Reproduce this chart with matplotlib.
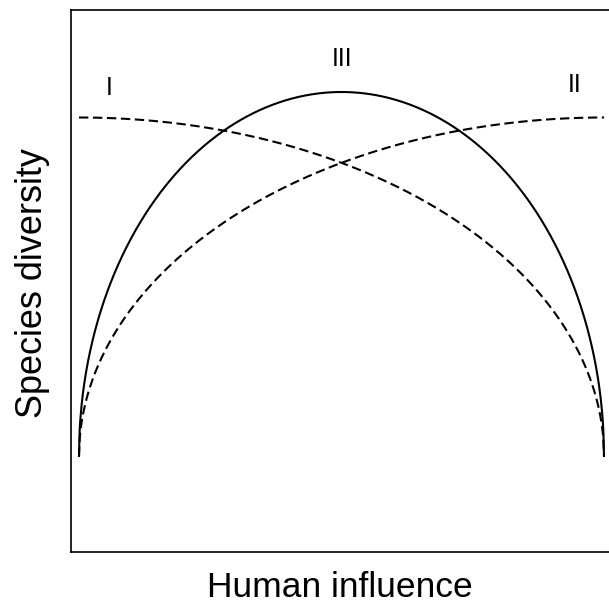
import matplotlib
matplotlib.use("Agg")
import numpy as np
import matplotlib.pyplot as plt

plt.rcParams["font.family"] = ["Liberation Sans", "DejaVu Sans"]

# Conceptual model: human influence on species diversity
X_RANGE = [0.0, 1.0]            # human influence (arbitrary units)
PEAK_III = 1.0                  # peak of hump-shaped curve III
TOP_I_II = 0.93                 # maximum of monotonic curves I and II
BASE = 0.0                      # diversity at the extremes
CURVE_LABELS = ["I", "II", "III"]
LABEL_X = [0.058, 0.944, 0.502]
LABEL_Y = [1.01, 1.02, 1.09]

x = np.linspace(X_RANGE[0], X_RANGE[1], 800)
span = X_RANGE[1] - X_RANGE[0]
mid = (X_RANGE[0] + X_RANGE[1]) / 2

# III: half ellipse
y3 = BASE + (PEAK_III - BASE) * np.sqrt(np.clip(1 - ((x - mid) / (span / 2)) ** 2, 0, 1))
# I: quarter ellipse, decreasing
y1 = BASE + (TOP_I_II - BASE) * np.sqrt(np.clip(1 - ((x - X_RANGE[0]) / span) ** 2, 0, 1))
# II: quarter ellipse, increasing
y2 = BASE + (TOP_I_II - BASE) * np.sqrt(np.clip(1 - ((X_RANGE[1] - x) / span) ** 2, 0, 1))

fig = plt.figure(figsize=(6.09, 6.06), dpi=100)
W, H = 609, 606
left, right, top, bottom = 71, 616, 10, 552
ax = fig.add_axes([left / W, 1 - bottom / H, (right - left) / W, (bottom - top) / H])

ax.plot(x, y3, color="black", lw=1.5)
ax.plot(x, y1, color="black", lw=1.5, dashes=(4.5, 2.2))
ax.plot(x, y2, color="black", lw=1.5, dashes=(4.5, 2.2))

for lab, lx, ly in zip(CURVE_LABELS, LABEL_X, LABEL_Y):
    ax.text(lx, ly, lab, ha="center", va="center", fontsize=18)

ax.set_xlim(-8 / 525, 1 + 12 / 525)
ax.set_ylim(-96 / 364, 1 + 82 / 364)
ax.set_xticks([])
ax.set_yticks([])
for s in ax.spines.values():
    s.set_linewidth(1.2)
ax.spines["right"].set_visible(False)

fig.text(340 / W, 1 - 597 / H, "Human influence", fontsize=25.5,
         ha="center", va="baseline")
fig.text(42 / W, 1 - 283 / H, "Species diversity", fontsize=26,
         rotation=90, rotation_mode="anchor", ha="center", va="baseline")

fig.savefig("out.png", dpi=100)
